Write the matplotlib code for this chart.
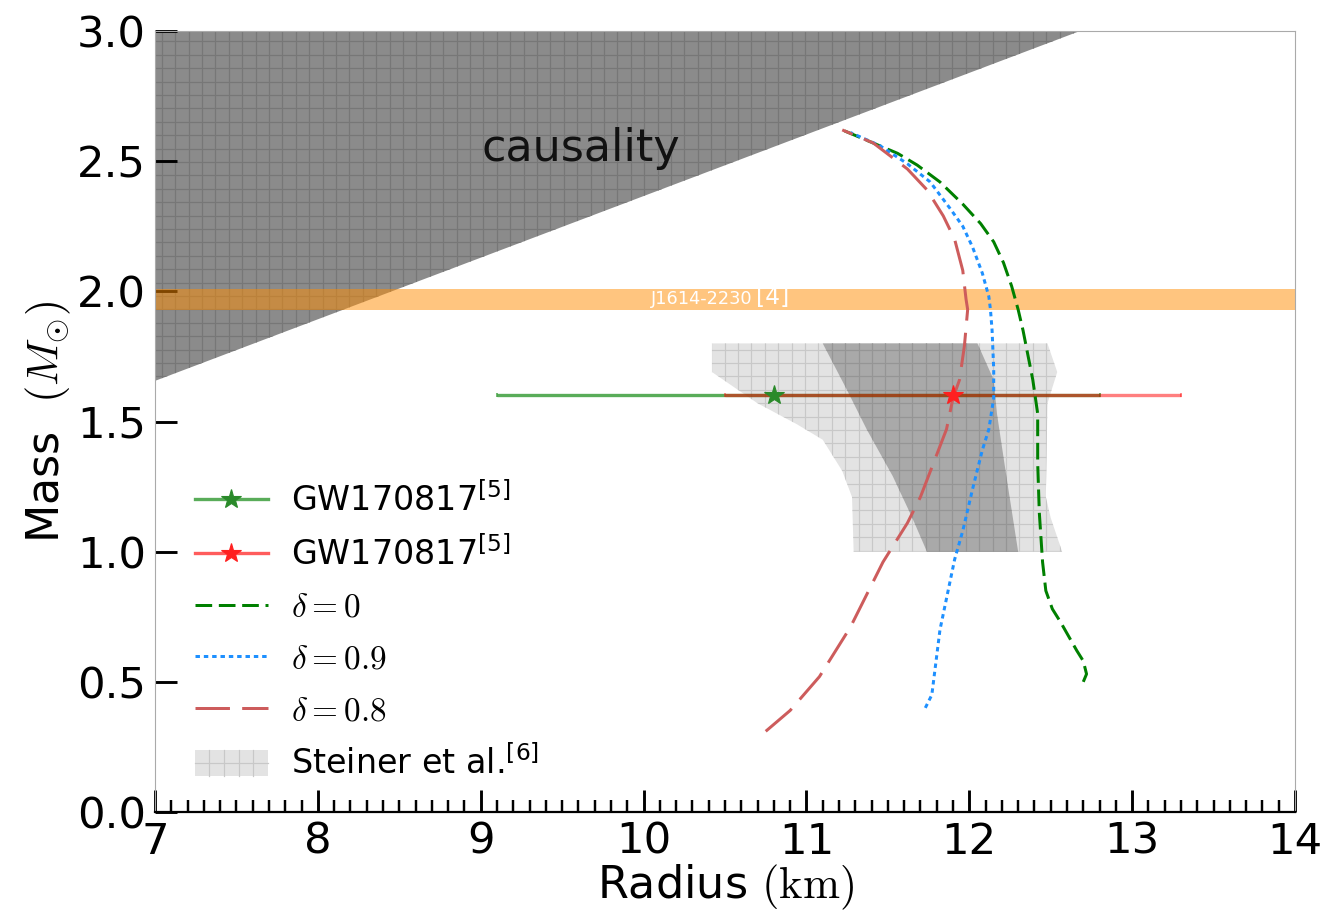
import matplotlib
matplotlib.use("Agg")
import numpy as np
import matplotlib.pyplot as plt
from matplotlib.collections import LineCollection
from matplotlib.legend_handler import HandlerBase
from matplotlib.lines import Line2D
from matplotlib.patches import Patch, Rectangle
from matplotlib.ticker import MultipleLocator

plt.rcParams['mathtext.fontset'] = 'cm'
plt.rcParams['lines.scale_dashes'] = False

# causality limit (radius in km, mass in Msun)
causality_r = [7.0, 12.68, 7.0]
causality_m = [1.656, 3.0, 3.0]

# J1614-2230 mass band
j1614_m = [1.93, 2.01]

# Steiner et al. region (outer and inner contours)
steiner_r = [10.42, 12.48, 12.54, 12.48, 12.47, 12.50, 12.57, 11.29, 11.28,
             11.22, 11.10, 10.94, 10.70, 10.42]
steiner_m = [1.80, 1.80, 1.69, 1.57, 1.21, 1.13, 1.00, 1.00, 1.21,
             1.31, 1.43, 1.49, 1.57, 1.69]
steiner_core_r = [11.10, 12.05, 12.15, 12.17, 12.23, 12.30, 11.74, 11.65,
                  11.53, 11.37, 11.25]
steiner_core_m = [1.80, 1.80, 1.66, 1.53, 1.28, 1.00, 1.00, 1.13,
                  1.29, 1.47, 1.62]

# GW170817 radius constraints at 1.6 Msun
gw_r = [10.8, 11.9]
gw_m = [1.6, 1.6]
gw_lo = [1.7, 1.4]
gw_hi = [2.0, 1.4]

# mass-radius curves
d0_r = [12.70, 12.72, 12.70, 12.66, 12.56, 12.51, 12.47, 12.45, 12.43, 12.42,
        12.42, 12.39, 12.33, 12.30, 12.26, 12.21, 12.15, 12.07, 11.96, 11.82,
        11.68, 11.56, 11.39, 11.22]
d0_m = [0.50, 0.53, 0.58, 0.62, 0.73, 0.78, 0.85, 0.96, 1.15, 1.34,
        1.53, 1.66, 1.85, 1.93, 2.02, 2.11, 2.19, 2.26, 2.335, 2.42,
        2.485, 2.53, 2.575, 2.62]
d09_r = [11.73, 11.77, 11.79, 11.82, 11.87, 11.91, 11.96, 12.02, 12.08, 12.12,
         12.15, 12.15, 12.14, 12.13, 12.12, 12.08, 12.02, 11.96, 11.88, 11.76,
         11.62, 11.45, 11.27]
d09_m = [0.40, 0.45, 0.55, 0.70, 0.85, 0.97, 1.08, 1.24, 1.39, 1.47,
         1.59, 1.70, 1.85, 1.93, 1.98, 2.07, 2.17, 2.25, 2.32, 2.42,
         2.49, 2.56, 2.61]
d08_r = [10.75, 10.90, 11.08, 11.27, 11.47, 11.62, 11.70, 11.78, 11.86, 11.90,
         11.94, 11.97, 11.99, 11.98, 11.96, 11.91, 11.84, 11.74, 11.62, 11.41,
         11.22]
d08_m = [0.31, 0.39, 0.52, 0.71, 0.96, 1.11, 1.21, 1.34, 1.47, 1.59,
         1.66, 1.79, 1.93, 1.97, 2.08, 2.20, 2.29, 2.39, 2.47, 2.57,
         2.62]

green_line = (0.0, 0.5, 0.0, 0.65)
red_line = (1.0, 0.0, 0.0, 0.5)

AX_W, AX_H = 1140, 781   # axes size in pixels
GRID_STEP = 13.4          # grid hatch spacing in pixels


def grid_fill(ax, r, m, face, line, z):
    # filled region with a square grid clipped to it
    patch = ax.fill(r, m, facecolor=face, linewidth=0, zorder=z)[0]
    xs = np.arange(GRID_STEP / 2, AX_W, GRID_STEP) / AX_W
    ys = np.arange(GRID_STEP / 2, AX_H, GRID_STEP) / AX_H
    segs = [[(x, 0), (x, 1)] for x in xs] + [[(0, y), (1, y)] for y in ys]
    lc = LineCollection(segs, colors=line, linewidths=1.1,
                        transform=ax.transAxes, zorder=z)
    ax.add_collection(lc, autolim=False)
    lc.set_clip_path(patch)
    return patch


class HandlerGrid(HandlerBase):
    def create_artists(self, legend, orig_handle, xdescent, ydescent,
                       width, height, fontsize, trans):
        x0, y0 = -xdescent, -ydescent
        arts = [Rectangle((x0, y0), width, height, linewidth=0,
                          facecolor=orig_handle.get_facecolor(), transform=trans)]
        col = orig_handle.get_edgecolor()
        for f in (0.2, 0.4, 0.6, 0.8):
            arts.append(Line2D([x0 + f * width] * 2, [y0, y0 + height],
                               color=col, lw=1.1, transform=trans))
        arts.append(Line2D([x0, x0 + width], [y0 + height / 2] * 2,
                           color=col, lw=1.1, transform=trans))
        return arts


fig = plt.figure(figsize=(1343 / 80, 912 / 80), dpi=80)
ax = fig.add_axes([155 / 1343, 100 / 912, AX_W / 1343, AX_H / 912])

grid_fill(ax, causality_r, causality_m, '#8b8b8b', '#777777', 1)
ax.axhspan(j1614_m[0], j1614_m[1], color=(1.0, 0.55, 0.0), alpha=0.5,
           linewidth=0, zorder=2)
grid_fill(ax, steiner_r, steiner_m, '#e3e3e3', '#c8c8c8', 2)
grid_fill(ax, steiner_core_r, steiner_core_m, '#a9a9a9', '#959595', 2)

ax.errorbar(gw_r[0], gw_m[0], xerr=[[gw_lo[0]], [gw_hi[0]]], fmt='none',
            ecolor=green_line, elinewidth=3, capsize=2, capthick=1.5, zorder=3)
ax.errorbar(gw_r[1], gw_m[1], xerr=[[gw_lo[1]], [gw_hi[1]]], fmt='none',
            ecolor=red_line, elinewidth=3, capsize=2, capthick=1.5, zorder=3)

ax.plot(d0_r, d0_m, color='green', lw=2.7, dashes=(15, 6), zorder=4)
ax.plot(d09_r, d09_m, color='dodgerblue', lw=2.7, dashes=(4, 3.5), zorder=4)
ax.plot(d08_r, d08_m, color='indianred', lw=2.7, dashes=(31, 11), zorder=4)

ax.plot(gw_r[0], gw_m[0], '*', color='#2a8a2a', ms=18, zorder=6)
ax.plot(gw_r[1], gw_m[1], '*', color='#ff2020', ms=18, zorder=6)

ax.text(9.615, 2.55, 'causality', fontsize=40, ha='center', va='center',
        color='#111111', zorder=5)
ax.text(10.67, 1.97, 'J1614-2230', fontsize=16, ha='right', va='center',
        color='white', zorder=5)
ax.text(10.69, 1.975, '[4]', fontsize=21, ha='left', va='center',
        color='white', zorder=5)

ax.set_xlim(7, 14)
ax.set_ylim(0, 3.0)
ax.xaxis.set_major_locator(MultipleLocator(1))
ax.xaxis.set_minor_locator(MultipleLocator(0.1))
ax.yaxis.set_major_locator(MultipleLocator(0.5))
ax.tick_params(axis='both', which='major', direction='in', length=20, width=2.6,
               labelsize=39, color='black', pad=8)
ax.tick_params(axis='x', which='minor', direction='in', length=10.5, width=2.2)
ax.tick_params(top=False, right=False, which='both')

for side in ['left', 'top', 'right']:
    ax.spines[side].set_color('#aaaaaa')
    ax.spines[side].set_linewidth(1.0)
ax.spines['bottom'].set_color('black')
ax.spines['bottom'].set_linewidth(2.0)

ax.set_xlabel('Radius $(\\mathrm{km})$', fontsize=40, labelpad=0)
ax.set_ylabel('Mass  $(M_{\\odot})$', fontsize=40, labelpad=4)

steiner_handle = Patch(facecolor='#e3e3e3', edgecolor='#c8c8c8')
handles = [
    Line2D([], [], color=green_line, lw=3, marker='*', ms=18,
           markerfacecolor='#2a8a2a', markeredgecolor='#2a8a2a'),
    Line2D([], [], color=(1.0, 0.2, 0.2, 0.8), lw=3, marker='*', ms=18,
           markerfacecolor='#ff2020', markeredgecolor='#ff2020'),
    Line2D([], [], color='green', lw=2.7, dashes=(15, 6)),
    Line2D([], [], color='dodgerblue', lw=2.7, dashes=(4, 3.5)),
    Line2D([], [], color='indianred', lw=2.7, dashes=(31, 11)),
    steiner_handle,
]
labels = ['GW170817$^{[5]}$', 'GW170817$^{[5]}$', '$\\delta=0$',
          '$\\delta=0.9$', '$\\delta=0.8$', 'Steiner et al.$^{[6]}$']
leg = ax.legend(handles, labels, loc='lower left', bbox_to_anchor=(0.023, 0.022),
                frameon=False, fontsize=30, labelspacing=0.56, handlelength=2.2,
                handleheight=0.8, handletextpad=0.7, borderaxespad=0,
                handler_map={steiner_handle: HandlerGrid()})
for i in (0, 1, 5):
    leg.get_texts()[i].set_math_fontfamily('dejavusans')

fig.savefig('out.png', dpi=80)
